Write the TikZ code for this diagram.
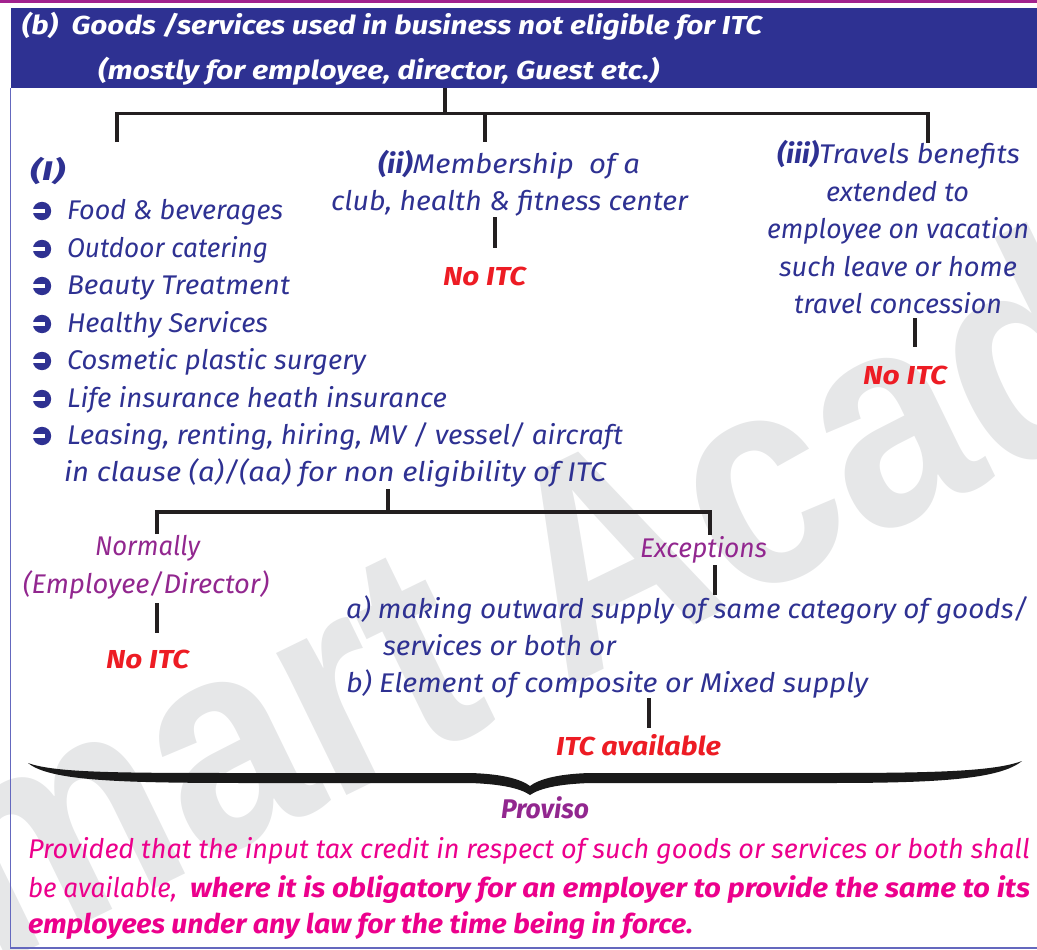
\documentclass[tikz,border=0pt]{standalone}
\usepackage{fontspec}
\usepackage{graphicx}
\setmainfont{Fira Sans}
\newfontfamily\wmfont{Liberation Sans}
\definecolor{tblue}{RGB}{46,49,146}
\definecolor{hblue}{RGB}{46,49,146}
\definecolor{tred}{RGB}{237,28,36}
\definecolor{tpurple}{RGB}{146,39,143}
\definecolor{tmag}{RGB}{236,0,140}
\definecolor{lineblack}{RGB}{35,31,32}
\definecolor{wmgray}{RGB}{230,231,232}
\definecolor{topmag}{RGB}{162,34,142}
\definecolor{bordblue}{RGB}{100,104,190}
\newcommand{\fitw}[2]{\resizebox{#1}{\height}{#2}}
\tikzset{
  base/.style={inner sep=0pt, outer sep=0pt, anchor=base west},
  body/.style={base, text=tblue, font=\fontsize{27}{30}\selectfont\itshape},
  hdr/.style={base, text=white, font=\fontsize{26}{30}\selectfont\bfseries\itshape},
  res/.style={base, text=tred, font=\fontsize{26}{30}\selectfont\bfseries\itshape},
  sub/.style={base, text=tpurple, font=\fontsize{27}{30}\selectfont\itshape},
  para/.style={base, text=tmag, font=\fontsize{27}{30}\selectfont\itshape},
  conn/.style={line width=3.6pt, draw=lineblack},
}
\newcommand{\bul}[1]{%
  \fill[tblue] (42,#1-8) circle (9.2);
  \fill[white] (31,#1-10) rectangle (45,#1-6);}
\begin{document}
\begin{tikzpicture}[x=1pt,y=-1pt]
\useasboundingbox (0,0) rectangle (1037,950);
% watermark
\begin{scope}
\clip (0,0) rectangle (1037,950);
\node[inner sep=0pt, anchor=base west, rotate=26, text=wmgray,
  font=\wmfont\bfseries\fontsize{300}{300}\selectfont] (wm) at (-165,1045) {\scalebox{0.87}[1]{Smart Academy}};
\end{scope}
% frame
\fill[topmag] (0,0) rectangle (1037,3);
\node[fill=hblue, inner sep=0pt, minimum width=1026pt, minimum height=80pt, anchor=north west] (header) at (11,8) {};
\draw[bordblue, line width=1.2pt] (10.6,88) -- (10.6,948) -- (1037,948);
% header text
\node[hdr] (h1) at (22,35) {\fitw{740pt}{(b)\ \ Goods /services used in business not eligible for ITC}};
\node[hdr] (h2) at (98,80) {\fitw{561pt}{(mostly for employee, director, Guest etc.)}};
% tree 1
\coordinate (t1a) at (445,88);
\coordinate (t1b) at (445,113.5);
\coordinate (t1l) at (117,113.5);
\coordinate (t1m) at (485,113.5);
\coordinate (t1r) at (928,113.5);
\draw[conn] (t1a) -- (t1b);
\draw[conn] (117,142) -- (t1l) -- (t1r) -- (928,143);
\draw[conn] (t1m) -- (485,142);
% column I
\node[body] (c1) at (30,180) {\fitw{35pt}{\bfseries (I)}};
\bul{219}\node[body] (i1) at (67,219) {\fitw{216pt}{Food \& beverages}};
\bul{257}\node[body] (i2) at (67,257) {\fitw{201pt}{Outdoor catering}};
\bul{294}\node[body] (i3) at (67,294) {\fitw{223pt}{Beauty Treatment}};
\bul{332}\node[body] (i4) at (67,332) {\fitw{201pt}{Healthy Services}};
\bul{369}\node[body] (i5) at (67,369) {\fitw{299pt}{Cosmetic plastic surgery}};
\bul{407}\node[body] (i6) at (67,407) {\fitw{380pt}{Life insurance heath insurance}};
\bul{444}\node[body] (i7) at (67,444) {\fitw{556pt}{Leasing, renting, hiring, MV / vessel/ aircraft}};
\node[body] (i8) at (64,481) {\fitw{542pt}{in clause (a)/(aa) for non eligibility of ITC}};
% column ii
\node[body] (c2a) at (378,173) {\fitw{262pt}{{\bfseries (ii)}Membership\ \ of a}};
\node[body] (c2b) at (331,210) {\fitw{357pt}{club, health \& fitness center}};
\node[res] (n2) at (443,285) {\fitw{83pt}{No ITC}};
\draw[conn] (495,217) -- (495,248);
% column iii
\node[body] (c3a) at (777,163) {\fitw{243pt}{{\bfseries (iii)}Travels benefits}};
\node[body] (c3b) at (826,201) {\fitw{143pt}{extended to}};
\node[body] (c3c) at (767,238) {\fitw{262pt}{employee on vacation}};
\node[body] (c3d) at (779,276) {\fitw{238pt}{such leave or home}};
\node[body] (c3e) at (794,313) {\fitw{208pt}{travel concession}};
\node[res] (n3) at (863,384) {\fitw{84pt}{No ITC}};
\draw[conn] (915,318) -- (915,347);
% tree 2
\coordinate (t2a) at (388,489);
\coordinate (t2b) at (388,512);
\coordinate (t2l) at (157,512);
\coordinate (t2r) at (710,512);
\draw[conn] (t2a) -- (t2b);
\draw[conn] (157,534) -- (t2l) -- (t2r) -- (710,535);
\node[sub] (nm) at (95,555) {\fitw{105pt}{Normally}};
\node[sub] (ed) at (23,593) {\fitw{246pt}{(Employee/Director)}};
\draw[conn] (157,603) -- (157,633);
\node[res] (n4) at (106,668) {\fitw{83pt}{No ITC}};
\node[sub] (ex) at (640,557) {\fitw{127pt}{Exceptions}};
\draw[conn] (715,565) -- (715,595);
\node[body] (ea) at (346,618) {\fitw{682pt}{a) making outward supply of same category of goods/}};
\node[body] (eb) at (383,655) {\fitw{233pt}{services or both or}};
\node[body] (ec) at (346,692) {\fitw{522pt}{b) Element of composite or Mixed supply}};
\draw[conn] (649,698) -- (649,728);
\node[res] (av) at (556,755) {\fitw{165pt}{ITC available}};
% brace
\fill[black!90] (28,763) .. controls (55,773) and (120,773) .. (250,773) -- (470,773)
  .. controls (505,774) and (522,780) .. (530,786) .. controls (538,780) and (555,774) .. (590,773)
  -- (830,773) .. controls (940,773) and (995,771) .. (1022,761)
  .. controls (1000,779) and (940,783) .. (830,783) -- (590,783)
  .. controls (560,784) and (540,788) .. (530,795) .. controls (520,788) and (500,784) .. (470,783)
  -- (250,783) .. controls (120,783) and (50,781) .. (28,763) -- cycle;
% proviso
\node[base, text=tpurple, font=\fontsize{27}{30}\selectfont\bfseries\itshape] (pv) at (501,818) {\fitw{88pt}{Proviso}};
\node[para] (p1) at (28,858) {\fitw{1002pt}{Provided that the input tax credit in respect of such goods or services or both shall}};
\node[para] (p2a) at (28,897) {\fitw{149pt}{be available,}};
\node[para, font=\fontsize{27}{30}\selectfont\bfseries\itshape] (p2b) at (190,897) {\fitw{840pt}{where it is obligatory for an employer to provide the same to its}};
\node[para, font=\fontsize{27}{30}\selectfont\bfseries\itshape] (p3) at (28,933) {\fitw{665pt}{employees under any law for the time being in force.}};
\end{tikzpicture}
\end{document}
